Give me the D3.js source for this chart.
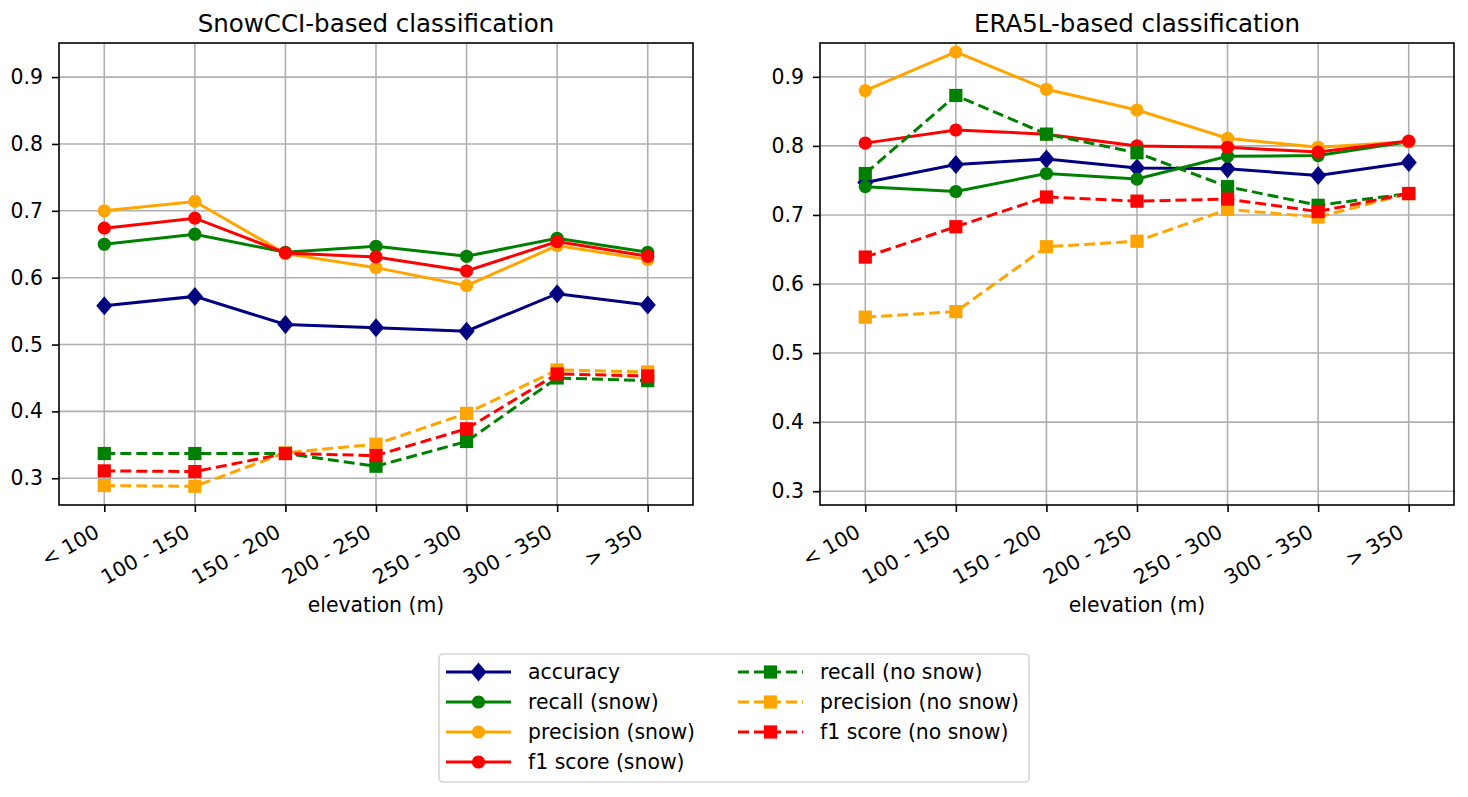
<!DOCTYPE html>
<html>
<head>
<meta charset="utf-8">
<script src="https://cdn.jsdelivr.net/npm/d3@7"></script>
<style>
  body { margin: 0; background: #fff; }
  text { font-family: "DejaVu Sans", sans-serif; fill: #000; }
</style>
</head>
<body>
<svg id="chart" width="1468" height="797"></svg>
<script>
const categories = ["< 100", "100 - 150", "150 - 200", "200 - 250", "250 - 300", "300 - 350", "> 350"];
const yTicks = [0.3, 0.4, 0.5, 0.6, 0.7, 0.8, 0.9];

// SnowCCI-based
const snowAccuracy = [0.558, 0.572, 0.530, 0.525, 0.520, 0.576, 0.559];
const snowRecallSnow = [0.650, 0.665, 0.638, 0.647, 0.632, 0.659, 0.638];
const snowPrecisionSnow = [0.700, 0.714, 0.636, 0.615, 0.588, 0.648, 0.627];
const snowF1Snow = [0.674, 0.689, 0.637, 0.631, 0.610, 0.654, 0.632];
const snowRecallNo = [0.337, 0.337, 0.337, 0.318, 0.355, 0.450, 0.446];
const snowPrecisionNo = [0.289, 0.288, 0.338, 0.351, 0.397, 0.462, 0.459];
const snowF1No = [0.311, 0.310, 0.337, 0.334, 0.374, 0.456, 0.453];

// ERA5L-based
const eraAccuracy = [0.747, 0.773, 0.781, 0.768, 0.767, 0.757, 0.776];
const eraRecallSnow = [0.741, 0.734, 0.760, 0.752, 0.785, 0.786, 0.806];
const eraPrecisionSnow = [0.880, 0.936, 0.882, 0.852, 0.811, 0.798, 0.806];
const eraF1Snow = [0.804, 0.823, 0.817, 0.800, 0.798, 0.791, 0.807];
const eraRecallNo = [0.760, 0.873, 0.817, 0.790, 0.741, 0.714, 0.731];
const eraPrecisionNo = [0.552, 0.560, 0.654, 0.662, 0.708, 0.697, 0.731];
const eraF1No = [0.639, 0.683, 0.726, 0.720, 0.723, 0.705, 0.731];

const seriesStyle = [
  { label: "accuracy", color: "#000080", marker: "diamond", dash: null },
  { label: "recall (snow)", color: "#008000", marker: "circle", dash: null },
  { label: "precision (snow)", color: "#ffa500", marker: "circle", dash: null },
  { label: "f1 score (snow)", color: "#ff0000", marker: "circle", dash: null },
  { label: "recall (no snow)", color: "#008000", marker: "square", dash: "11,5" },
  { label: "precision (no snow)", color: "#ffa500", marker: "square", dash: "11,5" },
  { label: "f1 score (no snow)", color: "#ff0000", marker: "square", dash: "11,5" },
];

const panels = [
  {
    title: "SnowCCI-based classification",
    left: 59, yDomain: [0.26, 0.951],
    series: [snowAccuracy, snowRecallSnow, snowPrecisionSnow, snowF1Snow, snowRecallNo, snowPrecisionNo, snowF1No],
  },
  {
    title: "ERA5L-based classification",
    left: 820, yDomain: [0.28, 0.949],
    series: [eraAccuracy, eraRecallSnow, eraPrecisionSnow, eraF1Snow, eraRecallNo, eraPrecisionNo, eraF1No],
  },
];

const svg = d3.select("#chart");
const plotTop = 43, width = 634, height = 462;
const fontSize = 20.4;

function drawMarker(g, type, x, y, color) {
  if (type === "circle") {
    g.append("circle").attr("cx", x).attr("cy", y).attr("r", 6.6).attr("fill", color);
  } else if (type === "square") {
    const h = 6.6;
    g.append("rect").attr("x", x - h).attr("y", y - h).attr("width", 2 * h).attr("height", 2 * h).attr("fill", color);
  } else {
    const h = 9.5;
    g.append("path").attr("d", `M${x},${y - h}L${x + h * 0.85},${y}L${x},${y + h}L${x - h * 0.85},${y}Z`).attr("fill", color);
  }
}

panels.forEach((p) => {
  const g = svg.append("g").attr("transform", `translate(${p.left}, ${plotTop})`);
  const x = d3.scalePoint().domain(categories).range([0, width]).padding(0.5);
  const y = d3.scaleLinear().domain(p.yDomain).range([height, 0]);

  // grid
  g.append("g").selectAll("line").data(categories).join("line")
    .attr("x1", (d) => x(d)).attr("x2", (d) => x(d)).attr("y1", 0).attr("y2", height)
    .attr("stroke", "#b0b0b0").attr("stroke-width", 1.6);
  g.append("g").selectAll("line").data(yTicks).join("line")
    .attr("x1", 0).attr("x2", width).attr("y1", (d) => y(d)).attr("y2", (d) => y(d))
    .attr("stroke", "#b0b0b0").attr("stroke-width", 1.6);

  // series
  p.series.forEach((vals, i) => {
    const s = seriesStyle[i];
    const pts = vals.map((v, j) => [x(categories[j]), y(v)]);
    g.append("path").attr("d", d3.line()(pts)).attr("fill", "none")
      .attr("stroke", s.color).attr("stroke-width", 3)
      .attr("stroke-dasharray", s.dash);
    const mg = g.append("g");
    pts.forEach((pt) => drawMarker(mg, s.marker, pt[0], pt[1], s.color));
  });

  // axes
  const yAxis = d3.axisLeft(y).tickValues(yTicks).tickFormat(d3.format(".1f")).tickSize(7).tickPadding(9);
  const ya = g.append("g").call(yAxis);
  ya.select(".domain").remove();
  ya.selectAll("line").attr("stroke", "#000").attr("stroke-width", 1.6);
  ya.selectAll("text").attr("font-size", fontSize).attr("font-family", "DejaVu Sans");

  const xAxis = d3.axisBottom(x).tickSize(7);
  const xa = g.append("g").attr("transform", `translate(0, ${height})`).call(xAxis);
  xa.select(".domain").remove();
  xa.selectAll("line").attr("stroke", "#000").attr("stroke-width", 1.6);
  xa.selectAll("text")
    .attr("font-size", fontSize).attr("font-family", "DejaVu Sans")
    .attr("text-anchor", "end").attr("x", 0).attr("y", 0).attr("dy", 0)
    .attr("transform", "translate(-4, 31) rotate(-30)");

  g.append("rect").attr("width", width).attr("height", height)
    .attr("fill", "none").attr("stroke", "#000").attr("stroke-width", 1.6);

  g.append("text").attr("x", width / 2).attr("y", -11.5).attr("text-anchor", "middle")
    .attr("font-size", 24.5).text(p.title);
  g.append("text").attr("x", width / 2).attr("y", 569).attr("text-anchor", "middle")
    .attr("font-size", fontSize).text("elevation (m)");
});

// legend
const lg = svg.append("g").attr("transform", "translate(439, 654)");
lg.append("rect").attr("x", 0).attr("y", 0).attr("width", 590).attr("height", 128).attr("rx", 4)
  .attr("fill", "#fff").attr("stroke", "#d6d6d6").attr("stroke-width", 1.6);
seriesStyle.forEach((s, i) => {
  const col = i < 4 ? 0 : 1;
  const row = i < 4 ? i : i - 4;
  const hx = col === 0 ? 7 : 299;
  const yy = 18 + row * 30;
  lg.append("line").attr("x1", hx).attr("x2", hx + 65).attr("y1", yy).attr("y2", yy)
    .attr("stroke", s.color).attr("stroke-width", 3).attr("stroke-dasharray", s.dash);
  drawMarker(lg, s.marker, hx + 32.5, yy, s.color);
  lg.append("text").attr("x", hx + 82).attr("y", yy).attr("dy", "0.35em")
    .attr("font-size", fontSize).text(s.label);
});
</script>
</body>
</html>
